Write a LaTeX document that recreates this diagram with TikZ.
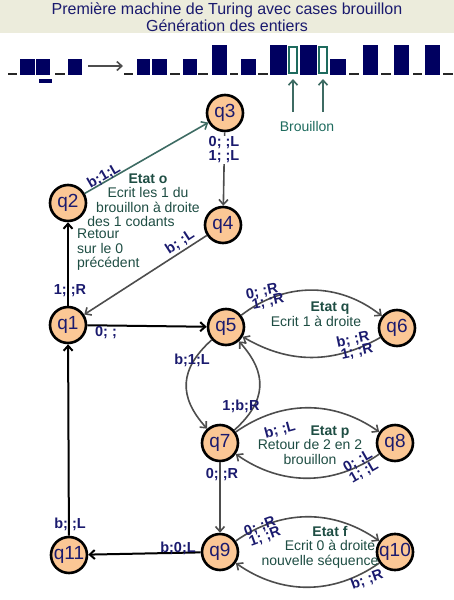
\documentclass[tikz,border=0pt]{standalone}
\usepackage{fontspec}
\setmainfont{Liberation Sans}
\usetikzlibrary{arrows.meta}
\definecolor{navy}{HTML}{1A1A6E}
\definecolor{blocknavy}{HTML}{000060}
\definecolor{nodefill}{HTML}{FBC795}
\definecolor{etat}{HTML}{1E4D43}
\definecolor{tealedge}{HTML}{3D6B63}
\definecolor{brou}{HTML}{1E6B5E}
\definecolor{edgegray}{HTML}{4D4D4D}
\definecolor{banner}{HTML}{ECECDC}
\tikzset{
  st/.style={circle, draw=black, line width=2.6pt, fill=nodefill, minimum size=36pt, inner sep=0pt, font=\fontsize{19}{19}\selectfont, text=navy},
  lab/.style={font=\fontsize{14.5}{15}\selectfont\bfseries, text=navy, inner sep=0.5pt},
  info/.style={font=\fontsize{14}{14.5}\selectfont, text=etat, align=center, inner sep=0pt},
  tip/.style={-{Straight Barb[length=5pt,width=9pt]}},
  blk/.style={tip, line width=2pt, draw=black},
  gry/.style={tip, line width=1.6pt, draw=edgegray},
  tl/.style={tip, line width=1.6pt, draw=tealedge},
  und/.style={line width=2pt, draw=black!85},
  blkfill/.style={fill=blocknavy},
  hollow/.style={draw=brou, line width=1.6pt},
}
\begin{document}
\begin{tikzpicture}[x=1pt,y=-1pt]
\useasboundingbox (0,0) rectangle (454,600);
% banner
\fill[banner] (0,0) rectangle (454,33);
\node[font=\fontsize{16}{17}\selectfont, text=navy, align=center, inner sep=0pt] (title) at (227,17) {Première machine de Turing avec cases brouillon\\Génération des entiers};
% tape
\foreach \a/\b in {8/17,55/65,124/133,170/180,198/208,230/238,258/268,349/359,381/391,413/422,443/453}
  \draw[und] (\a,73.8) -- (\b,73.8);
\foreach \a/\b in {20/35,36/50,68/82,137/150,152/167,183/197,241/256,330/346}
  \fill[blkfill] (\a,59) rectangle (\b,75);
\fill[blkfill] (39,79) rectangle (52,83);
\foreach \a/\b in {212/227,270/287,300/317,363/378,394/409,425/440}
  \fill[blkfill] (\a,45) rectangle (\b,75);
\draw[hollow] (288.8,46.8) rectangle (297.2,73.2);
\draw[hollow] (318.8,46.8) rectangle (327.2,73.2);
\coordinate (ta) at (88,66);
\coordinate (tb) at (123,66);
\draw[line width=1.6pt, draw=edgegray, -{Straight Barb[length=5pt,width=9pt]}] (ta) -- (tb);
\node[font=\fontsize{14}{14}\selectfont, text=brou, inner sep=0pt] (brl) at (307,126) {Brouillon};
\coordinate (b1s) at (293,112); \coordinate (b1e) at (293,79);
\coordinate (b2s) at (323,112); \coordinate (b2e) at (323,79);
\draw[tl] (b1s) -- (b1e);
\draw[tl] (b2s) -- (b2e);
% states
\node[st] (q3) at (225,113) {q3};
\node[st] (q2) at (68,203) {q2};
\node[st] (q4) at (223,225) {q4};
\node[st] (q1) at (68,325) {q1};
\node[st] (q5) at (226,327) {q5};
\node[st] (q6) at (397,328) {q6};
\node[st] (q7) at (220,443) {q7};
\node[st] (q8) at (395,443) {q8};
\node[st] (q9) at (220,552) {q9};
\node[st] (q10) at (395,552) {q10};
\node[st] (q11) at (69,555) {q11};
% edges
\draw[blk] (q1) -- (q2);
\draw[tl] (q2) -- (q3);
\draw[gry] (q3) -- (q4);
\draw[gry] (q4) -- (q1);
\draw[blk] (q1) -- (q5);
\draw[gry] (q5) to[bend left=38] (q6);
\draw[gry] (q6) to[bend left=30] (q5);
\draw[gry] (q5) to[bend right=45, looseness=1.25] (q7);
\draw[gry] (q7) to[bend right=45, looseness=1.25] (q5);
\draw[gry] (q7) to[bend left=35] (q8);
\draw[gry] (q8) to[bend left=35] (q7);
\draw[gry] (q7) -- (q9);
\draw[gry] (q9) to[bend left=35] (q10);
\draw[gry] (q10) to[bend left=35] (q9);
\draw[blk] (q9) -- (q11);
\draw[blk] (q11) -- (q1);
% edge labels
\node[lab] (l12) at (70,291) {1; ;R};
\node[lab, rotate=30] (l23) at (104,176) {b;1;L};
\node[lab, fill=white, align=center, inner sep=1pt] (l34) at (224,150) {0; ;L\\[-1pt]1; ;L};
\node[lab, rotate=33] (l41) at (180,242) {b; ;L};
\node[lab] (l15) at (106,333) {0; ;};
\node[lab, rotate=12] (l56a) at (262,292) {0; ;R};
\node[lab, rotate=12] (l56b) at (268,302) {1; ;R};
\node[lab, rotate=12] (l65a) at (353,340) {b; ;R};
\node[lab, rotate=12] (l65b) at (357,352) {1; ;R};
\node[lab] (l57) at (192,360) {b;1;L};
\node[lab] (l75) at (241,406) {1;b;R};
\node[lab, rotate=15] (l78) at (280,430) {b; ;L};
\node[lab, rotate=30] (l87a) at (358,461) {0; ;L};
\node[lab, rotate=30] (l87b) at (364,472) {1; ;L};
\node[lab] (l79) at (222,475) {0; ;R};
\node[lab, rotate=20] (l910a) at (260,527) {0; ;R};
\node[lab, rotate=20] (l910b) at (265,537) {1; ;R};
\node[lab, rotate=20] (l109) at (367,580) {b; ;R};
\node[lab] (l911) at (178,548) {b;0;L};
\node[lab] (l111) at (70,524) {b; ;L};
% state descriptions
\node[info] (eo) at (148,200) {\textbf{Etat o}\\Ecrit les 1 du\\brouillon à droite\\\hspace*{-34pt}des 1 codants};
\node[info, align=left, anchor=west] (ret) at (77,250) {Retour\\sur le 0\\précédent};
\node[info] (eq) at (316,314) {\hspace*{28pt}\textbf{Etat q}\\Ecrit 1 à droite};
\node[info] (ep) at (310,445) {\hspace*{40pt}\textbf{Etat p}\\Retour de 2 en 2\\brouillon};
\node[info] (ef) at (320,547) {\hspace*{20pt}\textbf{Etat f}\\\hspace*{20pt}Ecrit 0 à droite\\nouvelle séquence};
\end{tikzpicture}
\end{document}
